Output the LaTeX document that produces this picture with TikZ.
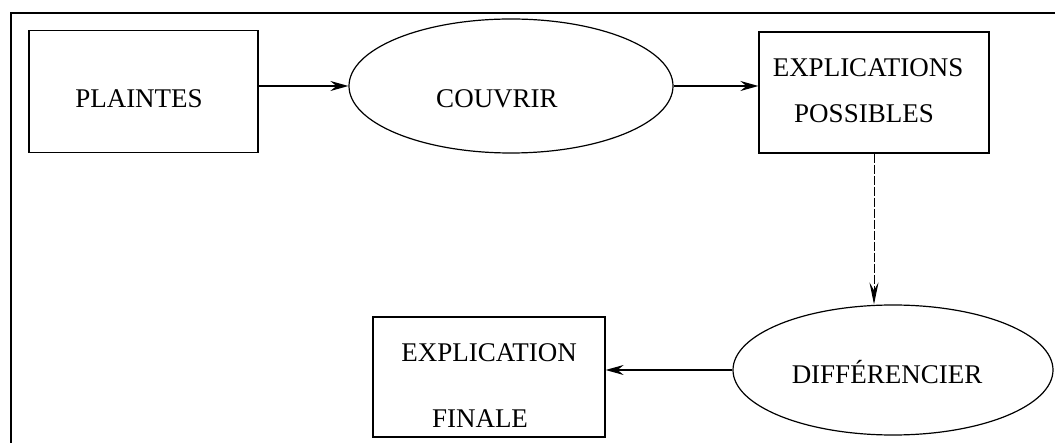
\documentclass[tikz,border=0pt]{standalone}
\usepackage{fontspec}
\setmainfont{Liberation Serif}
\usetikzlibrary{shapes.geometric,arrows.meta}
\tikzset{
  boxnode/.style={draw, rectangle, line width=1.2pt, inner sep=0pt, minimum width=229pt, minimum height=122pt},
  ovalnode/.style={draw, ellipse, line width=1.2pt, inner sep=0pt},
  lbl/.style={anchor=base, inner sep=0pt, font=\fontsize{27}{30}\selectfont},
  conn/.style={line width=1.5pt, -{Stealth[length=18pt,width=10pt,inset=6pt]}},
  dconn/.style={line width=1pt, dash pattern=on 9pt off 2pt, -{Stealth[length=22pt,width=9pt,inset=8pt]}},
  frame/.style={line width=2pt}
}
\begin{document}
\begin{tikzpicture}[x=1pt,y=-1pt]
\useasboundingbox (0,0) rectangle (1055,443);
\draw[frame] (11,500) -- (11,13) -- (1100,13);
% nodes
\node[boxnode] (plaintes) at (143.5,91.5) {};
\node[ovalnode, minimum width=324pt, minimum height=134pt] (couvrir) at (511,86) {};
\node[boxnode, minimum width=230pt, minimum height=121pt] (expl) at (874,92.5) {};
\node[ovalnode, minimum width=320pt, minimum height=130pt] (diff) at (893,370) {};
\node[boxnode, minimum width=232pt, minimum height=120pt] (final) at (489,377) {};
% labels
\node[lbl] (tplaintes) at (139,108) {PLAINTES};
\node[lbl] (tcouvrir) at (497,108) {COUVRIR};
\node[lbl] (texpl1) at (868,77) {EXPLICATIONS};
\node[lbl] (texpl2) at (864,123) {POSSIBLES};
\node[lbl] (tfinal1) at (489,362) {EXPLICATION};
\node[lbl] (tfinal2) at (480,428) {FINALE};
\node[lbl] (tdiff) at (887,384) {DIFFÉRENCIER};
% connectors
\draw[conn] (plaintes.east |- couvrir.west) -- (couvrir.west);
\draw[conn] (couvrir.east) -- (couvrir.east -| expl.west);
\draw[dconn] (expl.south) -- (expl.south |- diff.north);
\draw[conn] (diff.west) -- (diff.west -| final.east);
\end{tikzpicture}
\end{document}
